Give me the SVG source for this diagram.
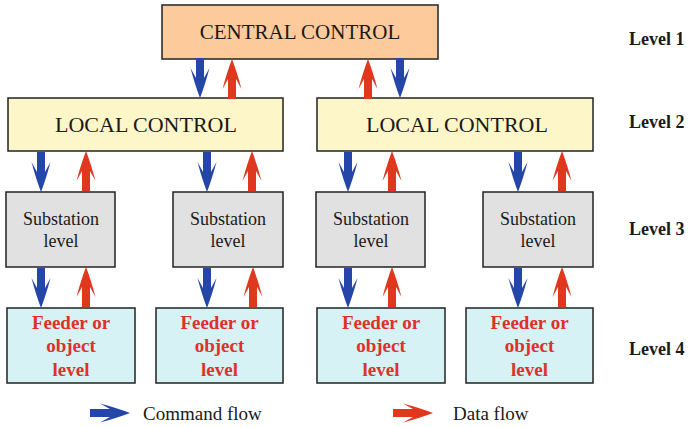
<svg xmlns="http://www.w3.org/2000/svg" xmlns:xlink="http://www.w3.org/1999/xlink" width="689" height="427" viewBox="0 0 689 427">
<style>
.box{stroke:#222;stroke-width:1.5}
.c{fill:#fdcb9b}
.l{fill:#fdf6c8}
.s{fill:#e1e1e1}
.f{fill:#d6f2f4}
.t{font-family:"Liberation Serif","Times New Roman",serif;fill:#1a1a1a;text-anchor:middle}
.big{font-size:21px}
.sub{font-size:18px}
.fd{font-size:19px;font-weight:bold;fill:#e0302a}
.lv{font-family:"Liberation Serif","Times New Roman",serif;font-size:18px;font-weight:bold;fill:#1a1a1a}
.lg{font-family:"Liberation Serif","Times New Roman",serif;font-size:19px;fill:#1a1a1a}
.b{fill:#2446a8}
.r{fill:#e0381f}
</style>
<defs>
<path id="arr" d="M -4,-40 L 4,-40 L 4,-20 L 9.5,-30 Q 5,-13 0,0 Q -5,-13 -9.5,-30 L -4,-20 Z"/>
</defs>
<rect width="689" height="427" fill="#fff"/>
<g id="central"><rect class="box c" x="162" y="5" width="276" height="54"/><text class="t big" x="300" y="39">CENTRAL CONTROL</text></g>
<g id="local1"><rect class="box l" x="8" y="98" width="275" height="53"/><text class="t big" x="146" y="132" style="font-size:22px">LOCAL CONTROL</text></g>
<g id="local2"><rect class="box l" x="317" y="98" width="276" height="53"/><text class="t big" x="457" y="132" style="font-size:22px">LOCAL CONTROL</text></g>
<g id="sub1"><rect class="box s" x="6" y="192" width="109" height="75"/><text class="t sub" x="61" y="225">Substation</text><text class="t sub" x="61" y="247">level</text></g>
<g id="sub2"><rect class="box s" x="173" y="192" width="110" height="75"/><text class="t sub" x="228" y="225">Substation</text><text class="t sub" x="228" y="247">level</text></g>
<g id="sub3"><rect class="box s" x="316" y="192" width="109" height="75"/><text class="t sub" x="371" y="225">Substation</text><text class="t sub" x="371" y="247">level</text></g>
<g id="sub4"><rect class="box s" x="483" y="192" width="110" height="75"/><text class="t sub" x="538" y="225">Substation</text><text class="t sub" x="538" y="247">level</text></g>
<g id="feeder1"><rect class="box f" x="7" y="308" width="128" height="75"/><text class="t fd" x="71" y="329">Feeder or</text><text class="t fd" x="71" y="352">object</text><text class="t fd" x="71" y="376">level</text></g>
<g id="feeder2"><rect class="box f" x="156" y="308" width="127" height="75"/><text class="t fd" x="219.5" y="329">Feeder or</text><text class="t fd" x="219.5" y="352">object</text><text class="t fd" x="219.5" y="376">level</text></g>
<g id="feeder3"><rect class="box f" x="317" y="308" width="128" height="75"/><text class="t fd" x="381" y="329">Feeder or</text><text class="t fd" x="381" y="352">object</text><text class="t fd" x="381" y="376">level</text></g>
<g id="feeder4"><rect class="box f" x="466" y="308" width="127" height="75"/><text class="t fd" x="529.5" y="329">Feeder or</text><text class="t fd" x="529.5" y="352">object</text><text class="t fd" x="529.5" y="376">level</text></g>
<g id="connectors">
<use href="#arr" class="b" transform="translate(200,98)"/>
<use href="#arr" class="r" transform="translate(232,59) rotate(180)"/>
<use href="#arr" class="r" transform="translate(368,59) rotate(180)"/>
<use href="#arr" class="b" transform="translate(400,98)"/>
<use href="#arr" class="b" transform="translate(41,192)"/>
<use href="#arr" class="r" transform="translate(86,151) rotate(180)"/>
<use href="#arr" class="b" transform="translate(207,192)"/>
<use href="#arr" class="r" transform="translate(252,151) rotate(180)"/>
<use href="#arr" class="b" transform="translate(348,192)"/>
<use href="#arr" class="r" transform="translate(392,151) rotate(180)"/>
<use href="#arr" class="b" transform="translate(518,192)"/>
<use href="#arr" class="r" transform="translate(562,151) rotate(180)"/>
<use href="#arr" class="b" transform="translate(41,308)"/>
<use href="#arr" class="r" transform="translate(86,267) rotate(180)"/>
<use href="#arr" class="b" transform="translate(207,308)"/>
<use href="#arr" class="r" transform="translate(253,267) rotate(180)"/>
<use href="#arr" class="b" transform="translate(348,308)"/>
<use href="#arr" class="r" transform="translate(392,267) rotate(180)"/>
<use href="#arr" class="b" transform="translate(518,308)"/>
<use href="#arr" class="r" transform="translate(562,267) rotate(180)"/>
</g>
<g id="levels">
<text class="lv" x="629" y="45">Level 1</text>
<text class="lv" x="629" y="128">Level 2</text>
<text class="lv" x="629" y="235">Level 3</text>
<text class="lv" x="629" y="355">Level 4</text>
</g>
<g id="legend">
<use href="#arr" class="b" transform="translate(130,413) rotate(-90)"/>
<text class="lg" x="143" y="420">Command flow</text>
<use href="#arr" class="r" transform="translate(433,413) rotate(-90)"/>
<text class="lg" x="453" y="420">Data flow</text>
</g>
</svg>
